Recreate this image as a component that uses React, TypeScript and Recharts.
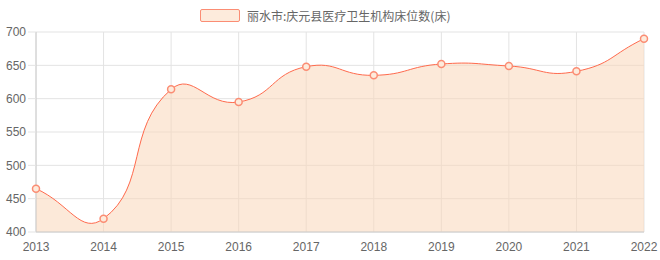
import { AreaChart, Area, XAxis, YAxis, CartesianGrid } from 'recharts';

const years = ['2013', '2014', '2015', '2016', '2017', '2018', '2019', '2020', '2021', '2022'];
const beds = [465, 420, 614, 595, 648, 635, 652, 649, 641, 690];
const yTicks = [400, 450, 500, 550, 600, 650, 700];
const seriesName = '丽水市:庆元县医疗卫生机构床位数(床)';

const data = years.map((year, i) => ({ year, value: beds[i] }));

const tickStyle = { fontSize: 12, fill: '#666', fontFamily: '"Liberation Sans", Arial, sans-serif' };

// bezier smoothing like the original chart (control points from neighbours, factor 0.5)
function smoothCurve(context: any) {
  let xs: number[] = [];
  let ys: number[] = [];
  let line = NaN;
  const s = 0.5;

  const controls = (k: number) => {
    const n = xs.length;
    const p = k > 0 ? k - 1 : k;
    const q = k < n - 1 ? k + 1 : k;
    const vx = xs[q] - xs[p];
    const vy = ys[q] - ys[p];
    const d0 = Math.hypot(xs[k] - xs[p], ys[k] - ys[p]);
    const d1 = Math.hypot(xs[q] - xs[k], ys[q] - ys[k]);
    const r = d0 + d1 === 0 ? 0.5 : d1 / (d0 + d1);
    return {
      outX: xs[k] + vx * s * r,
      outY: ys[k] + vy * s * r,
      inX: xs[k] - vx * s * (1 - r),
      inY: ys[k] - vy * s * (1 - r),
    };
  };

  return {
    areaStart() {
      line = 0;
    },
    areaEnd() {
      line = NaN;
    },
    lineStart() {
      xs = [];
      ys = [];
    },
    lineEnd() {
      const n = xs.length;
      if (n) {
        if (line) context.lineTo(xs[0], ys[0]);
        else context.moveTo(xs[0], ys[0]);
      }
      for (let i = 1; i < n; i++) {
        const a = controls(i - 1);
        const b = controls(i);
        context.bezierCurveTo(a.outX, a.outY, b.inX, b.inY, xs[i], ys[i]);
      }
      if (line || (line !== 0 && n === 1)) context.closePath();
      line = 1 - line;
    },
    point(x: number, y: number) {
      xs.push(+x);
      ys.push(+y);
    },
  };
}

export default function App() {
  return (
    <div style={{ position: 'absolute', left: 0, top: 0, width: 660, height: 260, background: '#fff' }}>
      <div
        style={{
          position: 'absolute',
          left: 200,
          top: 7,
          display: 'flex',
          alignItems: 'center',
          fontFamily: '"Noto Sans CJK SC", sans-serif',
          fontSize: 12,
          color: '#666',
          whiteSpace: 'nowrap',
        }}
      >
        <span
          style={{
            display: 'inline-block',
            width: 38,
            height: 11,
            background: '#fdebdc',
            border: '1.5px solid #fb8d74',
            borderRadius: 2,
            marginRight: 7,
          }}
        />
        <span>{seriesName}</span>
      </div>
      <AreaChart width={660} height={260} data={data} margin={{ top: 32, right: 16, left: 0, bottom: 0 }}>
        <CartesianGrid stroke="#e3e3e3" />
        <XAxis
          dataKey="year"
          height={28}
          tick={tickStyle}
          tickLine={false}
          tickSize={8}
          tickMargin={2}
          axisLine={{ stroke: '#ccc' }}
          interval={0}
        />
        <YAxis
          width={36}
          domain={[400, 700]}
          ticks={yTicks}
          tick={tickStyle}
          tickSize={8}
          tickMargin={2}
          tickLine={{ stroke: '#e3e3e3' }}
          axisLine={{ stroke: '#ccc' }}
          allowDataOverflow
        />
        <Area
          type={smoothCurve as any}
          dataKey="value"
          name={seriesName}
          stroke="#ff6a4d"
          strokeWidth={1}
          fill="rgb(250,215,185)"
          fillOpacity={0.55}
          dot={{ r: 3.5, stroke: '#fb8d74', strokeWidth: 1.5, fill: '#fdebdc', fillOpacity: 1 }}
          activeDot={false}
          isAnimationActive={false}
        />
      </AreaChart>
    </div>
  );
}
